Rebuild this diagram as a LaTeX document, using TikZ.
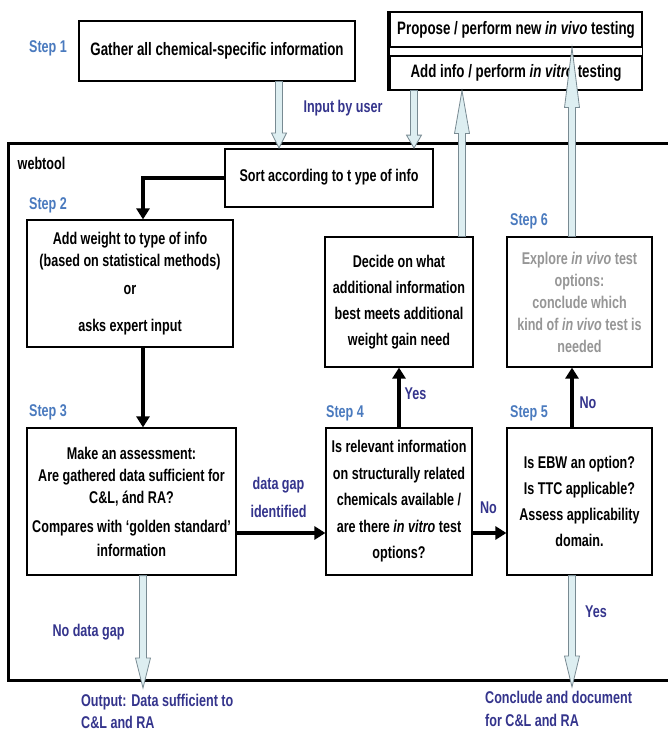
\documentclass[tikz,border=0pt]{standalone}
\usepackage{fontspec}
\setmainfont{Liberation Sans}[FakeStretch=0.74]
\usetikzlibrary{arrows.meta,calc}
\definecolor{stepblue}{RGB}{74,122,190}
\definecolor{lblnavy}{RGB}{52,52,140}
\definecolor{txtgray}{RGB}{150,150,150}
\definecolor{blkfill}{RGB}{221,238,241}
\definecolor{blkline}{RGB}{120,138,146}
\newcommand\boxfont{\fontsize{17}{22}\selectfont\bfseries}
\newcommand\bigboxfont{\fontsize{18}{22}\selectfont\bfseries}
\newcommand\lblfont{\fontsize{17}{22}\selectfont\bfseries}
\newcommand\blockdown[3]{\filldraw[blockarr] let \p1=(#1), \p2=(#2) in
  (\x1-3.5pt,\y1) -- (\x1-3.5pt,\y2+#3) -- (\x1-7.5pt,\y2+#3) -- (\x1,\y2) --
  (\x1+7.5pt,\y2+#3) -- (\x1+3.5pt,\y2+#3) -- (\x1+3.5pt,\y1) -- cycle;}
\newcommand\blockup[3]{\filldraw[blockarr] let \p1=(#1), \p2=(#2) in
  (\x1-3.5pt,\y1) -- (\x1-3.5pt,\y2-#3) -- (\x1-7.5pt,\y2-#3) -- (\x1,\y2) --
  (\x1+7.5pt,\y2-#3) -- (\x1+3.5pt,\y2-#3) -- (\x1+3.5pt,\y1) -- cycle;}
\begin{document}
\begin{tikzpicture}[x=1pt,y=-1pt,
  box/.style={draw, line width=1.2pt, fill=white, align=center, font=\boxfont, inner sep=2pt},
  steplbl/.style={font=\lblfont, text=stepblue, inner sep=0pt},
  lbl/.style={font=\lblfont, text=lblnavy, inner sep=0pt},
  blockarr/.style={fill=blkfill, draw=blkline, line width=0.8pt, line join=miter},
  blackarr/.style={line width=4pt, -{Triangle[length=11pt,width=13pt]}}]
\useasboundingbox (0,0) rectangle (668,733);

% helper coordinates
\coordinate (xa) at (279,0);
\coordinate (xb) at (414,0);
\coordinate (xc) at (462,0);
\coordinate (c1) at (143,0);
\coordinate (c2) at (572,0);
\coordinate (c3) at (0,533);
\coordinate (out1) at (143,688);
\coordinate (out2) at (572,687);

% webtool frame
\draw[line width=3pt] (668,143) -- (8,143) -- (8,680) -- (668,680);
\node[inner sep=0pt, font=\lblfont] (webtool) at (41.5,163) {webtool};

% step labels
\node[steplbl] (s1) at (48,48) {Step 1};
\node[steplbl] (s2) at (48,205) {Step 2};
\node[steplbl] (s3) at (48,412) {Step 3};
\node[steplbl] (s4) at (345,413) {Step 4};
\node[steplbl] (s5) at (529,413) {Step 5};
\node[steplbl] (s6) at (529,221) {Step 6};

% boxes
\node[box, font=\bigboxfont, minimum width=276pt, minimum height=60pt] (gather) at (217,51) {Gather all chemical-specific information};
\node[box, font=\bigboxfont, minimum width=252pt, minimum height=35pt] (propose) at (516,29.5) {Propose / perform new \textit{in vivo} testing};
\node[box, font=\bigboxfont, minimum width=252pt, minimum height=34pt] (addinfo) at (516,73) {Add info / perform \textit{in vitro} testing};
\draw[line width=1.2pt] (propose.south east) -- (addinfo.north east);
\draw[line width=3pt] ([xshift=-0.5pt]propose.north west) -- ([xshift=-0.5pt]addinfo.south west);

\node[box, line width=1.8pt, minimum width=208pt, minimum height=58pt] (sort) at (329,178) {\raisebox{5pt}{Sort according to t ype of info}};
\node[box, minimum width=206pt, minimum height=127pt] (step2box) at (130,283.5)
  {Add weight to type of info\\(based on statistical methods)\\[6pt]or\\[15pt]asks expert input};
\node[box, minimum width=209pt, minimum height=147pt] (step3box) at (131.5,501.5)
  {Make an assessment:\\Are gathered data sufficient for\\C\&L, ánd RA?\\[7pt]Compares with ‘golden standard’\\[2pt]information};
\node[box, minimum width=146pt, minimum height=147pt] (step4box) at (399,501.5)
  {Is relevant information\\[4.5pt]on structurally related\\[4.5pt]chemicals available /\\[4.5pt]are there \textit{in vitro} test\\[4.5pt]options?};
\node[box, minimum width=145pt, minimum height=147pt] (step5box) at (579.5,501.5)
  {Is EBW an option?\\[4pt]Is TTC applicable?\\[4pt]Assess applicability\\[4pt]domain.};
\node[box, minimum width=148pt, minimum height=130pt] (decide) at (399,302)
  {Decide on what\\[4pt]additional information\\[4pt]best meets additional\\[4pt]weight gain need};
\node[box, text=txtgray, minimum width=145pt, minimum height=130pt] (explore) at (579.5,302)
  {Explore \textit{in vivo} test\\options:\\conclude which\\kind of \textit{in vivo} test is\\needed};

% labels
\node[lbl] (inputlbl) at (343,108) {Input by user};
\node[lbl, align=center] (gaplbl) at (278.5,497) {data gap\\[6pt]identified};
\node[lbl] (yes4) at (415.5,394) {Yes};
\node[lbl] (no4) at (488.5,508) {No};
\node[lbl] (no5) at (588,403) {No};
\node[lbl] (nogap) at (88.5,632) {No data gap};
\node[lbl] (yes5) at (596,612) {Yes};
\node[lbl, anchor=west, align=left] (outtxt) at (81,711) {Output: Data sufficient to\\C\&L and RA};
\node[lbl, anchor=west, align=left, font=\fontsize{17}{23}\selectfont\bfseries] (conctxt) at (485,709) {Conclude and document\\for C\&L and RA};

% black arrows
\draw[blackarr] (sort.west) -| (step2box.north -| c1);
\draw[blackarr] (step2box.south -| c1) -- (step3box.north -| c1);
\draw[blackarr] (step3box.east |- c3) -- (step4box.west |- c3);
\draw[blackarr] (step4box.east |- c3) -- (step5box.west |- c3);
\draw[blackarr] (step4box.north) -- (decide.south);
\draw[blackarr] (step5box.north -| c2) -- (explore.south -| c2);

% block arrows
\blockdown{gather.south -| xa}{sort.north -| xa}{15pt}
\blockdown{addinfo.south -| xb}{sort.north -| xb}{13pt}
\blockup{decide.north -| xc}{addinfo.south -| xc}{43pt}
\blockup{explore.north -| c2}{propose.south -| c2}{60pt}
\blockdown{step3box.south -| c1}{out1}{30pt}
\blockdown{step5box.south -| c2}{out2}{31pt}
\end{tikzpicture}
\end{document}
